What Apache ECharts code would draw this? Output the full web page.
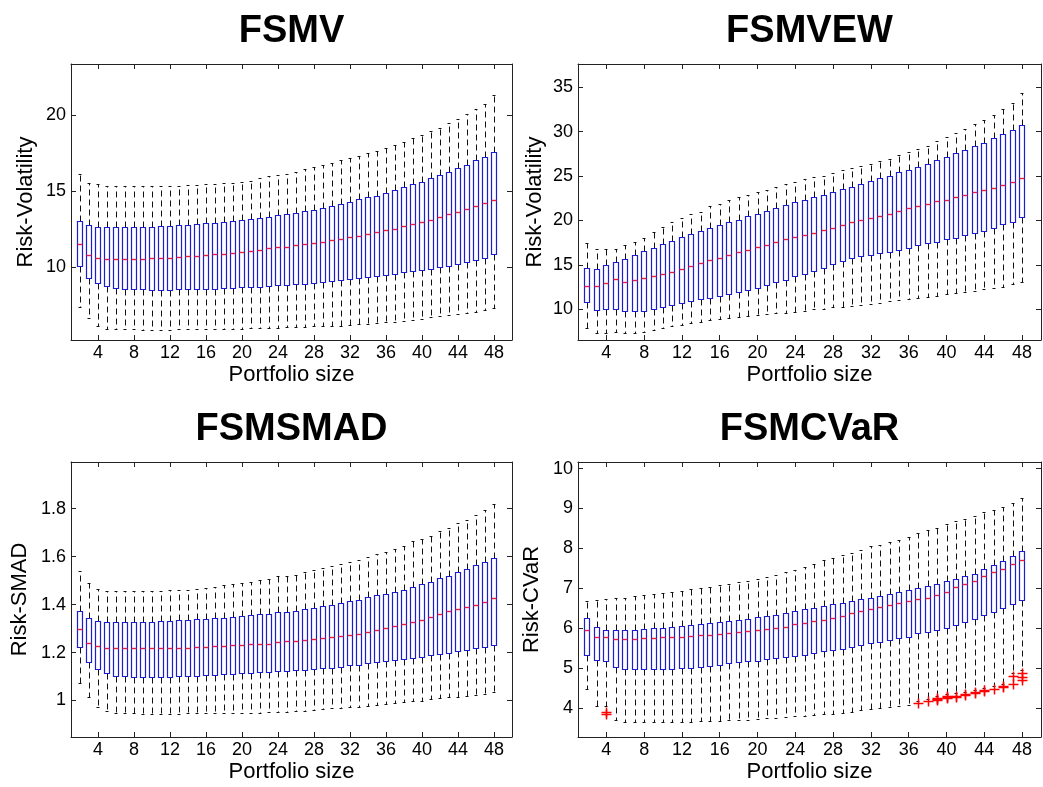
<!DOCTYPE html>
<html>
<head>
<meta charset="utf-8">
<script src="https://cdn.jsdelivr.net/npm/echarts@6/dist/echarts.min.js"></script>
<style>
html,body{margin:0;padding:0;background:#fff;}
#chart{width:1043px;height:787px;}
</style>
</head>
<body>
<div id="chart"></div>
<script>
// ---------------- data ----------------
const sizes = [2,3,4,5,6,7,8,9,10,11,12,13,14,15,16,17,18,19,20,21,22,23,24,25,26,27,28,29,30,31,32,33,34,35,36,37,38,39,40,41,42,43,44,45,46,47,48];
const xTicks = [4,8,12,16,20,24,28,32,36,40,44,48];

// FSMV
const mvLow  = [7.42,6.66,6.16,5.98,5.94,5.92,5.92,5.91,5.91,5.91,5.91,5.92,5.92,5.93,5.94,5.95,5.96,5.97,5.98,6.00,6.01,6.03,6.05,6.06,6.07,6.09,6.12,6.14,6.16,6.18,6.20,6.25,6.29,6.33,6.38,6.44,6.51,6.57,6.64,6.73,6.81,6.88,6.94,7.01,7.10,7.21,7.32];
const mvQ1   = [10.11,9.32,8.99,8.75,8.62,8.60,8.58,8.57,8.53,8.53,8.53,8.56,8.56,8.58,8.60,8.60,8.62,8.67,8.69,8.73,8.74,8.80,8.83,8.86,8.89,8.93,9.00,9.06,9.13,9.19,9.26,9.32,9.39,9.46,9.52,9.59,9.67,9.74,9.85,9.91,10.02,10.11,10.24,10.35,10.48,10.63,10.87];
const mvMed  = [11.51,10.79,10.61,10.55,10.55,10.55,10.55,10.57,10.59,10.60,10.63,10.68,10.72,10.74,10.79,10.85,10.90,10.94,10.98,11.07,11.16,11.25,11.31,11.36,11.46,11.53,11.62,11.68,11.79,11.88,11.99,12.07,12.18,12.31,12.42,12.55,12.69,12.82,12.97,13.14,13.32,13.49,13.65,13.82,14.00,14.24,14.45];
const mvQ3   = [13.04,12.78,12.65,12.65,12.65,12.65,12.65,12.65,12.67,12.71,12.72,12.76,12.80,12.84,12.89,12.93,13.00,13.06,13.11,13.17,13.24,13.32,13.43,13.50,13.58,13.71,13.77,13.91,14.04,14.17,14.30,14.48,14.59,14.70,14.89,15.07,15.28,15.46,15.63,15.87,16.09,16.27,16.50,16.75,17.03,17.25,17.58];
const mvHigh = [16.16,15.55,15.44,15.37,15.35,15.33,15.33,15.33,15.33,15.33,15.35,15.37,15.39,15.41,15.44,15.48,15.53,15.57,15.63,15.70,15.85,15.98,16.09,16.16,16.27,16.45,16.59,16.70,16.86,17.03,17.18,17.31,17.49,17.66,17.84,18.06,18.25,18.47,18.69,18.93,19.17,19.48,19.76,20.06,20.37,20.74,21.29];
const mvTicks = [10,15,20];

// FSMVEW
const ewLow  = [7.93,7.29,7.29,7.48,7.29,7.29,7.45,7.63,7.90,8.10,8.25,8.45,8.60,8.75,8.90,9.00,9.10,9.25,9.35,9.45,9.55,9.62,9.74,9.85,10.00,10.08,10.23,10.30,10.41,10.49,10.56,10.71,10.90,11.05,11.13,11.28,11.39,11.46,11.69,11.80,11.91,12.10,12.25,12.40,12.55,12.85,13.12];
const ewQ1   = [10.82,9.88,10.00,10.00,9.81,9.77,9.85,10.07,10.22,10.48,10.75,10.97,11.12,11.31,11.50,11.72,11.98,12.20,12.44,12.77,13.04,13.30,13.70,14.02,14.32,14.69,15.11,15.44,15.78,16.01,16.12,16.34,16.49,16.68,16.87,17.21,17.43,17.62,17.85,18.07,18.37,18.56,18.86,19.12,19.54,19.87,20.40];
const ewMed  = [12.59,12.66,12.92,13.37,13.07,13.26,13.49,13.71,13.97,14.23,14.53,14.87,15.21,15.51,15.81,16.11,16.41,16.64,16.98,17.28,17.58,17.88,18.10,18.37,18.60,18.90,19.16,19.46,19.80,20.02,20.29,20.55,20.77,21.04,21.37,21.67,21.86,22.13,22.35,22.61,22.84,23.14,23.40,23.70,24.00,24.30,24.75];
const ewQ3   = [14.69,14.58,14.93,15.32,15.63,16.13,16.51,16.85,17.30,17.70,18.11,18.46,18.80,19.10,19.46,19.80,20.10,20.47,20.77,21.04,21.45,21.75,22.05,22.35,22.58,22.84,23.25,23.51,23.81,24.15,24.42,24.75,25.05,25.39,25.69,25.99,26.40,26.78,27.19,27.57,27.94,28.32,28.69,29.22,29.67,30.12,30.72];
const ewHigh = [17.45,16.83,16.75,16.83,17.28,17.58,18.05,18.70,19.27,19.78,20.29,20.77,21.00,21.64,21.90,22.24,22.61,22.91,23.18,23.44,23.78,24.08,24.30,24.68,24.87,25.05,25.32,25.65,25.84,26.07,26.33,26.74,26.93,27.31,27.72,28.06,28.39,28.96,29.37,29.82,30.31,30.83,31.25,31.89,32.52,33.16,34.33];
const ewTicks = [10,15,20,25,30,35];

// FSMSMAD
const smLow  = [1.071,1.014,0.975,0.957,0.950,0.947,0.946,0.945,0.945,0.945,0.945,0.945,0.946,0.946,0.947,0.947,0.947,0.947,0.949,0.949,0.950,0.951,0.953,0.954,0.956,0.958,0.961,0.965,0.967,0.969,0.972,0.975,0.979,0.982,0.986,0.989,0.993,0.997,1.000,1.006,1.010,1.014,1.015,1.019,1.022,1.026,1.035];
const smQ1   = [1.222,1.162,1.130,1.114,1.104,1.101,1.100,1.098,1.098,1.098,1.100,1.101,1.103,1.104,1.105,1.108,1.109,1.111,1.114,1.115,1.118,1.119,1.122,1.125,1.126,1.128,1.130,1.134,1.137,1.141,1.146,1.150,1.155,1.159,1.164,1.169,1.173,1.176,1.182,1.189,1.193,1.200,1.207,1.211,1.218,1.225,1.233];
const smMed  = [1.298,1.241,1.226,1.220,1.220,1.219,1.218,1.218,1.218,1.219,1.219,1.220,1.220,1.223,1.225,1.226,1.227,1.230,1.231,1.234,1.236,1.237,1.242,1.246,1.248,1.252,1.256,1.261,1.263,1.268,1.275,1.279,1.284,1.293,1.301,1.310,1.318,1.326,1.334,1.349,1.362,1.372,1.383,1.391,1.398,1.409,1.427];
const smQ3   = [1.374,1.342,1.330,1.327,1.327,1.327,1.327,1.328,1.328,1.330,1.331,1.334,1.335,1.338,1.340,1.342,1.345,1.349,1.352,1.356,1.359,1.362,1.367,1.370,1.374,1.381,1.385,1.392,1.399,1.408,1.415,1.421,1.430,1.438,1.445,1.452,1.462,1.474,1.485,1.495,1.509,1.521,1.534,1.549,1.563,1.577,1.596];
const smHigh = [1.541,1.491,1.463,1.457,1.456,1.455,1.455,1.455,1.456,1.457,1.459,1.460,1.462,1.466,1.468,1.474,1.481,1.485,1.491,1.495,1.502,1.508,1.517,1.521,1.524,1.534,1.543,1.553,1.560,1.568,1.577,1.585,1.599,1.609,1.618,1.631,1.646,1.663,1.674,1.686,1.706,1.721,1.738,1.754,1.772,1.792,1.818];
const smTicks = [1,1.2,1.4,1.6,1.8];

// FSMCVaR
const cvLow  = [4.48,4.06,4.04,3.69,3.66,3.65,3.65,3.65,3.65,3.66,3.66,3.66,3.67,3.67,3.68,3.69,3.70,3.71,3.72,3.74,3.76,3.78,3.79,3.81,3.83,3.84,3.86,3.88,3.91,3.94,3.98,3.99,4.02,4.04,4.08,4.17,4.22,4.30,4.34,4.37,4.40,4.45,4.50,4.55,4.60,4.88,4.95];
const cvQ1   = [5.32,5.21,5.17,5.03,4.99,4.98,4.98,4.98,4.98,4.99,5.00,5.01,5.02,5.05,5.07,5.12,5.15,5.17,5.19,5.22,5.25,5.27,5.31,5.34,5.38,5.42,5.45,5.49,5.54,5.57,5.62,5.66,5.70,5.75,5.79,5.87,5.90,5.95,6.01,6.09,6.15,6.22,6.32,6.41,6.50,6.61,6.72];
const cvMed  = [5.96,5.77,5.77,5.74,5.73,5.73,5.76,5.76,5.77,5.77,5.78,5.80,5.82,5.83,5.86,5.88,5.91,5.92,5.96,5.98,6.01,6.04,6.10,6.14,6.18,6.21,6.26,6.30,6.37,6.42,6.49,6.54,6.58,6.64,6.68,6.73,6.77,6.84,6.90,7.03,7.10,7.18,7.30,7.41,7.49,7.62,7.70];
const cvQ3   = [6.25,6.02,5.96,5.96,5.96,5.95,5.98,6.00,6.01,6.03,6.05,6.07,6.10,6.14,6.16,6.18,6.20,6.24,6.27,6.31,6.34,6.38,6.42,6.47,6.51,6.56,6.60,6.64,6.69,6.73,6.77,6.82,6.86,6.90,6.96,7.01,7.06,7.10,7.18,7.23,7.30,7.37,7.49,7.58,7.69,7.81,7.93];
const cvHigh = [6.69,6.72,6.74,6.75,6.77,6.80,6.83,6.86,6.89,6.92,6.94,6.99,7.01,7.04,7.08,7.11,7.15,7.19,7.24,7.29,7.34,7.40,7.46,7.53,7.61,7.70,7.76,7.83,7.89,7.97,8.05,8.09,8.16,8.21,8.28,8.38,8.45,8.51,8.61,8.68,8.73,8.81,8.92,8.97,9.05,9.15,9.26];
const cvOutX = [4,4,37,38,39,39,39,40,40,40,41,41,42,42,43,43,44,44,45,46,46,47,47,48,48,48];
const cvOutY = [3.86,3.89,4.13,4.17,4.20,4.23,4.25,4.25,4.28,4.30,4.28,4.31,4.32,4.35,4.38,4.40,4.43,4.46,4.48,4.52,4.55,4.60,4.80,4.71,4.79,4.87];
const cvTicks = [4,5,6,7,8,9,10];

// ---------------- chart ----------------
const FONT = "'Liberation Sans', Arial, sans-serif";
const panels = [
  {title:'FSMV',    yName:'Risk-Volatility', lo:mvLow, q1:mvQ1, md:mvMed, q3:mvQ3, hi:mvHigh, ticks:mvTicks, ymin:5.23, ymax:23.35,
   grid:{left:71, top:64, width:441, height:276}, nameGap:34},
  {title:'FSMVEW',  yName:'Risk-Volatility', lo:ewLow, q1:ewQ1, md:ewMed, q3:ewQ3, hi:ewHigh, ticks:ewTicks, ymin:6.54, ymax:37.6,
   grid:{left:578, top:64, width:463, height:276}, nameGap:32},
  {title:'FSMSMAD', yName:'Risk-SMAD', lo:smLow, q1:smQ1, md:smMed, q3:smQ3, hi:smHigh, ticks:smTicks, ymin:0.848, ymax:1.994,
   grid:{left:71, top:462, width:441, height:275}, nameGap:40},
  {title:'FSMCVaR', yName:'Risk-CVaR', lo:cvLow, q1:cvQ1, md:cvMed, q3:cvQ3, hi:cvHigh, ticks:cvTicks, ymin:3.275, ymax:10.165,
   grid:{left:578, top:462, width:463, height:275}, nameGap:35}
];

function renderBox(params, api) {
  const x = api.value(0);
  const v = [api.value(1), api.value(2), api.value(3), api.value(4), api.value(5)];
  const cx = Math.round(api.coord([x, v[0]])[0]) + 0.5;
  const ys = v.map(val => Math.round(api.coord([x, val])[1]) + 0.5);
  const dashStyle = {stroke:'#111', lineWidth:1, lineDash:[6,4]};
  const solid = {stroke:'#111', lineWidth:1};
  const bl = cx - 3, br = cx + 2;
  return {type:'group', children:[
    {type:'line', shape:{x1:cx, y1:ys[3], x2:cx, y2:ys[4]}, style:dashStyle},
    {type:'line', shape:{x1:cx, y1:ys[1], x2:cx, y2:ys[0]}, style:dashStyle},
    {type:'line', shape:{x1:cx-2, y1:ys[4], x2:cx+1, y2:ys[4]}, style:solid},
    {type:'line', shape:{x1:cx-2, y1:ys[0], x2:cx+1, y2:ys[0]}, style:solid},
    {type:'rect', shape:{x:bl, y:ys[3], width:br-bl, height:ys[1]-ys[3]}, style:{fill:'rgba(0,0,0,0)', stroke:'#1c1cd0', lineWidth:1.2}},
    {type:'line', shape:{x1:bl, y1:ys[2], x2:br, y2:ys[2]}, style:{stroke:'#e8203c', lineWidth:1.4}}
  ]};
}

function renderPlus(params, api) {
  const p = api.coord([api.value(0), api.value(1)]);
  const cx = Math.round(p[0]) + 0.5, cy = Math.round(p[1]) + 0.5;
  const s = 5;
  const st = {stroke:'#ff0000', lineWidth:1.5};
  return {type:'group', children:[
    {type:'line', shape:{x1:cx-s, y1:cy, x2:cx+s, y2:cy}, style:st},
    {type:'line', shape:{x1:cx, y1:cy-s, x2:cx, y2:cy+s}, style:st}
  ]};
}

const grid = [], xAxis = [], yAxis = [], series = [], graphic = [];
panels.forEach((p, i) => {
  grid.push(p.grid);
  const tickStyle = {show:true, inside:true, length:5, lineStyle:{color:'#222', width:1}};
  const lineStyle = {show:true, onZero:false, lineStyle:{color:'#222', width:1}};
  xAxis.push({
    gridIndex:i, type:'value', min:1, max:50, position:'bottom',
    axisLine:lineStyle, splitLine:{show:false},
    axisTick:Object.assign({customValues:xTicks}, tickStyle),
    axisLabel:{customValues:xTicks, color:'#000', fontSize:18, fontFamily:FONT, margin:4},
    name:'Portfolio size', nameLocation:'middle', nameGap:24,
    nameTextStyle:{color:'#000', fontSize:22, fontFamily:FONT}
  });
  xAxis.push({
    gridIndex:i, type:'value', min:1, max:50, position:'top',
    axisLine:lineStyle, splitLine:{show:false},
    axisTick:Object.assign({customValues:xTicks}, tickStyle),
    axisLabel:{show:false, customValues:xTicks}
  });
  yAxis.push({
    gridIndex:i, type:'value', min:p.ymin, max:p.ymax, position:'left',
    axisLine:lineStyle, splitLine:{show:false},
    axisTick:Object.assign({customValues:p.ticks}, tickStyle),
    axisLabel:{customValues:p.ticks, color:'#000', fontSize:18, fontFamily:FONT, margin:5},
    name:p.yName, nameLocation:'middle', nameGap:p.nameGap,
    nameTextStyle:{color:'#000', fontSize:22, fontFamily:FONT}
  });
  yAxis.push({
    gridIndex:i, type:'value', min:p.ymin, max:p.ymax, position:'right',
    axisLine:lineStyle, splitLine:{show:false},
    axisTick:Object.assign({customValues:p.ticks}, tickStyle),
    axisLabel:{show:false, customValues:p.ticks}
  });
  const boxes = sizes.map((s, k) => [s, p.lo[k], p.q1[k], p.md[k], p.q3[k], p.hi[k]]);
  series.push({
    type:'custom', name:p.title, xAxisIndex:2*i, yAxisIndex:2*i,
    renderItem:renderBox, data:boxes, encode:{x:0, y:[1,2,3,4,5]},
    animation:false, silent:true, clip:true
  });
  graphic.push({
    type:'text', x:p.grid.left + p.grid.width/2, y:p.grid.top - 32,
    style:{text:p.title, font:"bold 38px " + FONT, fill:'#000', textAlign:'center', textVerticalAlign:'middle'}
  });
});
series.push({
  type:'custom', name:'outliers', xAxisIndex:6, yAxisIndex:6,
  renderItem:renderPlus, data:cvOutX.map((x, k) => [x, cvOutY[k]]), encode:{x:0, y:1},
  animation:false, silent:true
});

const chart = echarts.init(document.getElementById('chart'), null, {renderer:'canvas'});
chart.setOption({
  backgroundColor:'#ffffff',
  animation:false,
  grid, xAxis, yAxis, series, graphic
});
</script>
</body>
</html>
